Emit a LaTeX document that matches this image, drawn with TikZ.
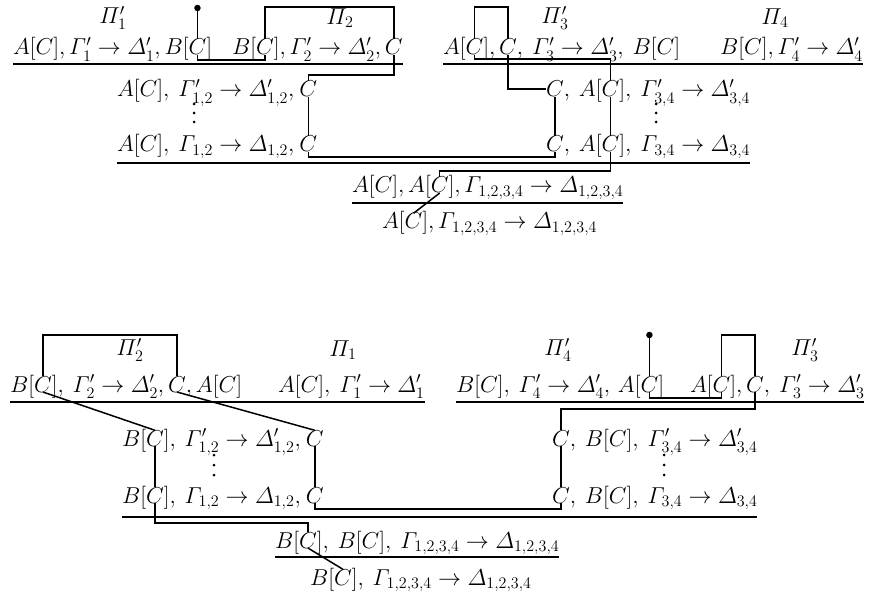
\RequirePackage{fix-cm}
\documentclass[tikz,border=0pt]{standalone}
\usepackage{amsmath}
\usetikzlibrary{calc}
\begin{document}
\begin{tikzpicture}[x=1pt,y=-1pt,
  ch/.style={inner sep=0pt, outer sep=0pt, anchor=base west, font=\fontsize{23}{27}\selectfont},
  lab/.style={inner sep=0pt, font=\fontsize{23}{27}\selectfont},
  wire/.style={line width=1.5pt},
  rulel/.style={line width=1.8pt},
  pinhead/.style={circle, fill, inner sep=0pt, minimum size=6.5pt},
  dotv/.style={circle, fill, inner sep=0pt, minimum size=3pt}]
\useasboundingbox (0,0) rectangle (886,604);

% ================= TOP =================
\node[lab] (P1) at (113,18) {$\varPi'_1$};
\node[lab] (P2) at (340,18) {$\varPi_2$};
\node[lab] (P3) at (555,18) {$\varPi'_3$};
\node[lab] (P4) at (775,18) {$\varPi_4$};

\node[ch] (ta0) at (13,55) {$A[C],\varGamma'_1\to\varDelta'_1,B[$};
\node[ch] (ta3) at (ta0.base east) {$C$};
\node[ch] (ta4) at (ta3.base east) {$]$};
\node[ch] (tb0) at (232,55) {$B[$};
\node[ch] (tb1) at (tb0.base east) {$C$};
\node[ch] (tb2) at (tb1.base east) {$],\varGamma'_2\to\varDelta'_2,\,$};
\node[ch] (tb3) at (tb2.base east) {$C$};
\node[ch] (tc0) at (443,55) {$A[$};
\node[ch] (tc1) at (tc0.base east) {$C$};
\node[ch] (tc2) at (tc1.base east) {$],\,$};
\node[ch] (tc3) at (tc2.base east) {$C$};
\node[ch] (tc4) at (tc3.base east) {$,\:\varGamma'_3\to\varDelta'_3,\:B[C]$};
\node[ch] (tdd) at (720,55) {$B[C],\varGamma'_4\to\varDelta'_4$};

\node[ch] (te0) at (117,97) {$A[C],\:\varGamma'_{1,2}\to\varDelta'_{1,2},\:$};
\node[ch] (te1) at (te0.base east) {$C$};
\node[ch] (tf1) at (546,97) {$C$};
\node[ch] (tf2) at (tf1.base east) {$,\:A[$};
\node[ch] (tf3) at (tf2.base east) {$C$};
\node[ch] (tf4) at (tf3.base east) {$],\:\varGamma'_{3,4}\to\varDelta'_{3,4}$};

\node[ch] (tg0) at (117,152) {$A[C],\:\varGamma_{1,2}\to\varDelta_{1,2},\:$};
\node[ch] (tg1) at (tg0.base east) {$C$};
\node[ch] (th1) at (546,152) {$C$};
\node[ch] (th2) at (th1.base east) {$,\:A[$};
\node[ch] (th3) at (th2.base east) {$C$};
\node[ch] (th4) at (th3.base east) {$],\:\varGamma_{3,4}\to\varDelta_{3,4}$};

\node[ch] (ti0) at (352,193) {$A[C],A[$};
\node[ch] (ti1) at (ti0.base east) {$C$};
\node[ch] (ti2) at (ti1.base east) {$],\varGamma_{1,2,3,4}\to\varDelta_{1,2,3,4}$};

\node[ch] (tj0) at (382,229) {$A[$};
\node[ch] (tj1) at (tj0.base east) {$C$};
\node[ch] (tj2) at (tj1.base east) {$],\varGamma_{1,2,3,4}\to\varDelta_{1,2,3,4}$};

\draw[rulel] (ta0.base west |- 0,64) -- (tb3.base east |- 0,64);
\draw[rulel] (tc0.base west |- 0,64) -- (tdd.base east |- 0,64);
\draw[rulel] (tg0.base west |- 0,163) -- (th4.base east |- 0,163);
\draw[rulel] (ti0.base west |- 0,203) -- (ti2.base east |- 0,203);

\foreach \yy in {104,113,122} {
  \node[dotv] at (194,\yy) {};
  \node[dotv] at (656,\yy) {};
}

\node[pinhead] (pa) at (ta3.center |- 0,8) {};
\draw[wire] (pa) -- (ta3.north);
\draw[wire] (ta3.south) -- ++(0,5) -| (tb1.south);
\draw[wire] (tb1.north) |- (tb3.north |- 0,7) -- (tb3.north);
\draw[wire] (tb3.south) |- (te1.north |- 0,75) -- (te1.north);
\draw[wire] (te1.south) -- (te1.south |- tg1.north);
\draw[wire] (tg1.south) -- ++(0,5) -| (th1.south);
\draw[wire] (tc1.north) |- (tc3.north |- 0,7) -- (tc3.north);
\draw[wire] (tc1.south) -- ++(0,4) -| (tf3.north);
\draw[wire] (tc3.south) |- (tf1.west);
\draw[wire] (tf1.south) -- (tf1.south |- th1.north);
\draw[wire] (tf3.south) -- (tf3.south |- th3.north);
\draw[wire] (th3.south) |- (ti1.north |- 0,171) -- (ti1.north);
\draw[wire] (ti1.south) -- (tj1.north);

% ================= BOTTOM =================
\node[lab] (Q2) at (130,350) {$\varPi'_2$};
\node[lab] (Q1) at (343,350) {$\varPi_1$};
\node[lab] (Q4) at (558,350) {$\varPi'_4$};
\node[lab] (Q3) at (805,350) {$\varPi'_3$};

\node[ch] (ba0) at (10,392) {$B[$};
\node[ch] (ba1) at (ba0.base east) {$C$};
\node[ch] (ba2) at (ba1.base east) {$],\:\varGamma'_2\to\varDelta'_2,\,$};
\node[ch] (ba3) at (ba2.base east) {$C$};
\node[ch] (ba4) at (ba3.base east) {$,A[C]$};
\node[ch] (bp) at (278,392) {$A[C],\:\varGamma'_1\to\varDelta'_1$};
\node[ch] (bc0) at (456,392) {$B[C],\:\varGamma'_4\to\varDelta'_4,\,A[$};
\node[ch] (bc1) at (bc0.base east) {$C$};
\node[ch] (bc2) at (bc1.base east) {$]$};
\node[ch] (bd0) at (690,392) {$A[$};
\node[ch] (bd1) at (bd0.base east) {$C$};
\node[ch] (bd2) at (bd1.base east) {$],\,$};
\node[ch] (bd3) at (bd2.base east) {$C$};
\node[ch] (bd4) at (bd3.base east) {$,\:\varGamma'_3\to\varDelta'_3$};

\node[ch] (be0) at (122,446) {$B[$};
\node[ch] (be1) at (be0.base east) {$C$};
\node[ch] (be2) at (be1.base east) {$],\:\varGamma'_{1,2}\to\varDelta'_{1,2},\:$};
\node[ch] (be3) at (be2.base east) {$C$};
\node[ch] (bf1) at (552,446) {$C$};
\node[ch] (bf2) at (bf1.base east) {$,\:B[C],\:\varGamma'_{3,4}\to\varDelta'_{3,4}$};

\node[ch] (bg0) at (122,503) {$B[$};
\node[ch] (bg1) at (bg0.base east) {$C$};
\node[ch] (bg2) at (bg1.base east) {$],\:\varGamma_{1,2}\to\varDelta_{1,2},\:$};
\node[ch] (bg3) at (bg2.base east) {$C$};
\node[ch] (bh1) at (552,503) {$C$};
\node[ch] (bh2) at (bh1.base east) {$,\:B[C],\:\varGamma_{3,4}\to\varDelta_{3,4}$};

\node[ch] (bi0) at (275,548) {$B[$};
\node[ch] (bi1) at (bi0.base east) {$C$};
\node[ch] (bi2) at (bi1.base east) {$],\:B[C],\:\varGamma_{1,2,3,4}\to\varDelta_{1,2,3,4}$};

\node[ch] (bj0) at (310,585) {$B[$};
\node[ch] (bj1) at (bj0.base east) {$C$};
\node[ch] (bj2) at (bj1.base east) {$],\:\varGamma_{1,2,3,4}\to\varDelta_{1,2,3,4}$};

\draw[rulel] (ba0.base west |- 0,402) -- (bp.base east |- 0,402);
\draw[rulel] (bc0.base west |- 0,402) -- (bd4.base east |- 0,402);
\draw[rulel] (bg0.base west |- 0,517) -- (bh2.base east |- 0,517);
\draw[rulel] (bi0.base west |- 0,557) -- (bi2.base east |- 0,557);

\foreach \yy in {455,465,475} {
  \node[dotv] at (214,\yy) {};
  \node[dotv] at (664,\yy) {};
}

\draw[wire] (ba1.north) |- (ba3.north |- 0,335) -- (ba3.north);
\draw[wire] (ba1.south) -- (be1.north);
\draw[wire] (ba3.south) -- (be3.north);
\node[pinhead] (pb) at (bc1.center |- 0,335) {};
\draw[wire] (pb) -- (bc1.north);
\draw[wire] (bc1.south) -- ++(0,6) -| (bd1.south);
\draw[wire] (bd1.north) |- (bd3.north |- 0,335) -- (bd3.north);
\draw[wire] (bd3.south) |- (bf1.north |- 0,409) -- (bf1.north);
\draw[wire] (be1.south) -- (be1.south |- bg1.north);
\draw[wire] (be3.south) -- (be3.south |- bg3.north);
\draw[wire] (bf1.south) -- (bf1.south |- bh1.north);
\draw[wire] (bg3.south) -- ++(0,6) -| (bh1.south);
\draw[wire] (bg1.south) |- (bi1.north |- 0,523) -- (bi1.north);
\draw[wire] (bi1.south) -- (bj1.north);
\end{tikzpicture}
\end{document}
